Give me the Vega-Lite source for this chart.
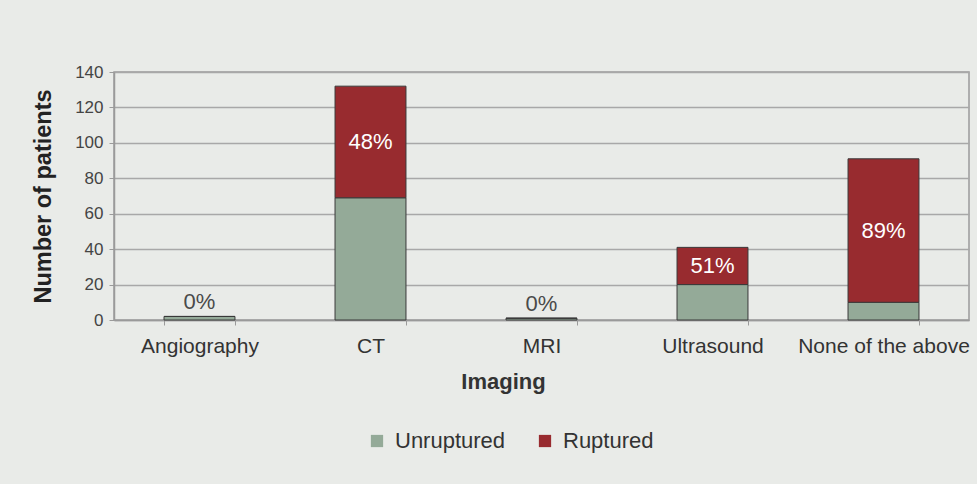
{
  "$schema": "https://vega.github.io/schema/vega-lite/v6.json",
  "width": 855,
  "height": 248,
  "autosize": {"type": "none"},
  "padding": {"left": 114, "top": 72, "right": 8, "bottom": 164},
  "background": "#e9ebe8",
  "config": {
    "font": "Liberation Sans",
    "view": {"stroke": "#9a9a9a", "strokeWidth": 1.5},
    "axis": {"labelFont": "Liberation Sans", "titleFont": "Liberation Sans"}
  },
  "data": {
    "values": [
      {"Imaging": "Angiography", "Status": "Unruptured", "Patients": 2, "Label": ""},
      {"Imaging": "Angiography", "Status": "Ruptured", "Patients": 0, "Label": "0%"},
      {"Imaging": "CT", "Status": "Unruptured", "Patients": 69, "Label": ""},
      {"Imaging": "CT", "Status": "Ruptured", "Patients": 63, "Label": "48%"},
      {"Imaging": "MRI", "Status": "Unruptured", "Patients": 1, "Label": ""},
      {"Imaging": "MRI", "Status": "Ruptured", "Patients": 0, "Label": "0%"},
      {"Imaging": "Ultrasound", "Status": "Unruptured", "Patients": 20, "Label": ""},
      {"Imaging": "Ultrasound", "Status": "Ruptured", "Patients": 21, "Label": "51%"},
      {"Imaging": "None of the above", "Status": "Unruptured", "Patients": 10, "Label": ""},
      {"Imaging": "None of the above", "Status": "Ruptured", "Patients": 81, "Label": "89%"}
    ]
  },
  "encoding": {
    "x": {
      "field": "Imaging",
      "type": "nominal",
      "sort": null,
      "scale": {"paddingInner": 0.585, "paddingOuter": 0.2925},
      "axis": {
        "title": "Imaging",
        "labelAngle": 0,
        "labelFontSize": 21,
        "labelColor": "#333333",
        "labelPadding": 10,
        "tickBand": "extent",
        "tickSize": 5,
        "tickColor": "#9a9a9a",
        "domainColor": "#9a9a9a",
        "domainWidth": 1.5,
        "titleFontSize": 22,
        "titleFontWeight": "bold",
        "titleColor": "#333333",
        "titlePadding": 15,
        "titleX": 389
      }
    },
    "y": {
      "field": "Patients",
      "type": "quantitative",
      "stack": "zero",
      "scale": {"domain": [0, 140]},
      "axis": {
        "title": "Number of patients",
        "values": [0, 20, 40, 60, 80, 100, 120, 140],
        "labelFontSize": 17,
        "labelColor": "#444444",
        "labelPadding": 6,
        "tickSize": 5,
        "tickColor": "#9a9a9a",
        "domainColor": "#9a9a9a",
        "domainWidth": 1.5,
        "gridColor": "#a8a8a8",
        "gridWidth": 1.5,
        "titleFontSize": 23.5,
        "titleFontWeight": "bold",
        "titleColor": "#222222",
        "titlePadding": 19
      }
    },
    "order": {"field": "Status", "sort": "descending"}
  },
  "layer": [
    {
      "mark": {"type": "bar", "stroke": "#3a3a3a", "strokeWidth": 1},
      "encoding": {
        "color": {
          "field": "Status",
          "type": "nominal",
          "scale": {"domain": ["Unruptured", "Ruptured"], "range": ["#94aa98", "#982b2f"]},
          "legend": {
            "title": null,
            "orient": "none",
            "direction": "horizontal",
            "legendX": 252,
            "legendY": 358,
            "symbolType": "square",
            "symbolSize": 150,
            "symbolStrokeWidth": 0,
            "labelFontSize": 22,
            "labelColor": "#333333",
            "labelFont": "Liberation Sans",
            "columnPadding": 28,
            "labelOffset": 7
          }
        }
      }
    },
    {
      "mark": {"type": "text", "color": "white", "fontSize": 22, "baseline": "middle"},
      "encoding": {
        "y": {"field": "Patients", "type": "quantitative", "stack": "zero", "bandPosition": 0.5},
        "text": {"condition": {"test": "datum.Patients > 0", "field": "Label"}, "value": ""}
      }
    },
    {
      "mark": {"type": "text", "color": "#4a4a4a", "fontSize": 22, "baseline": "bottom", "dy": -2},
      "encoding": {
        "text": {"condition": {"test": "datum.Patients == 0", "field": "Label"}, "value": ""}
      }
    }
  ]
}
